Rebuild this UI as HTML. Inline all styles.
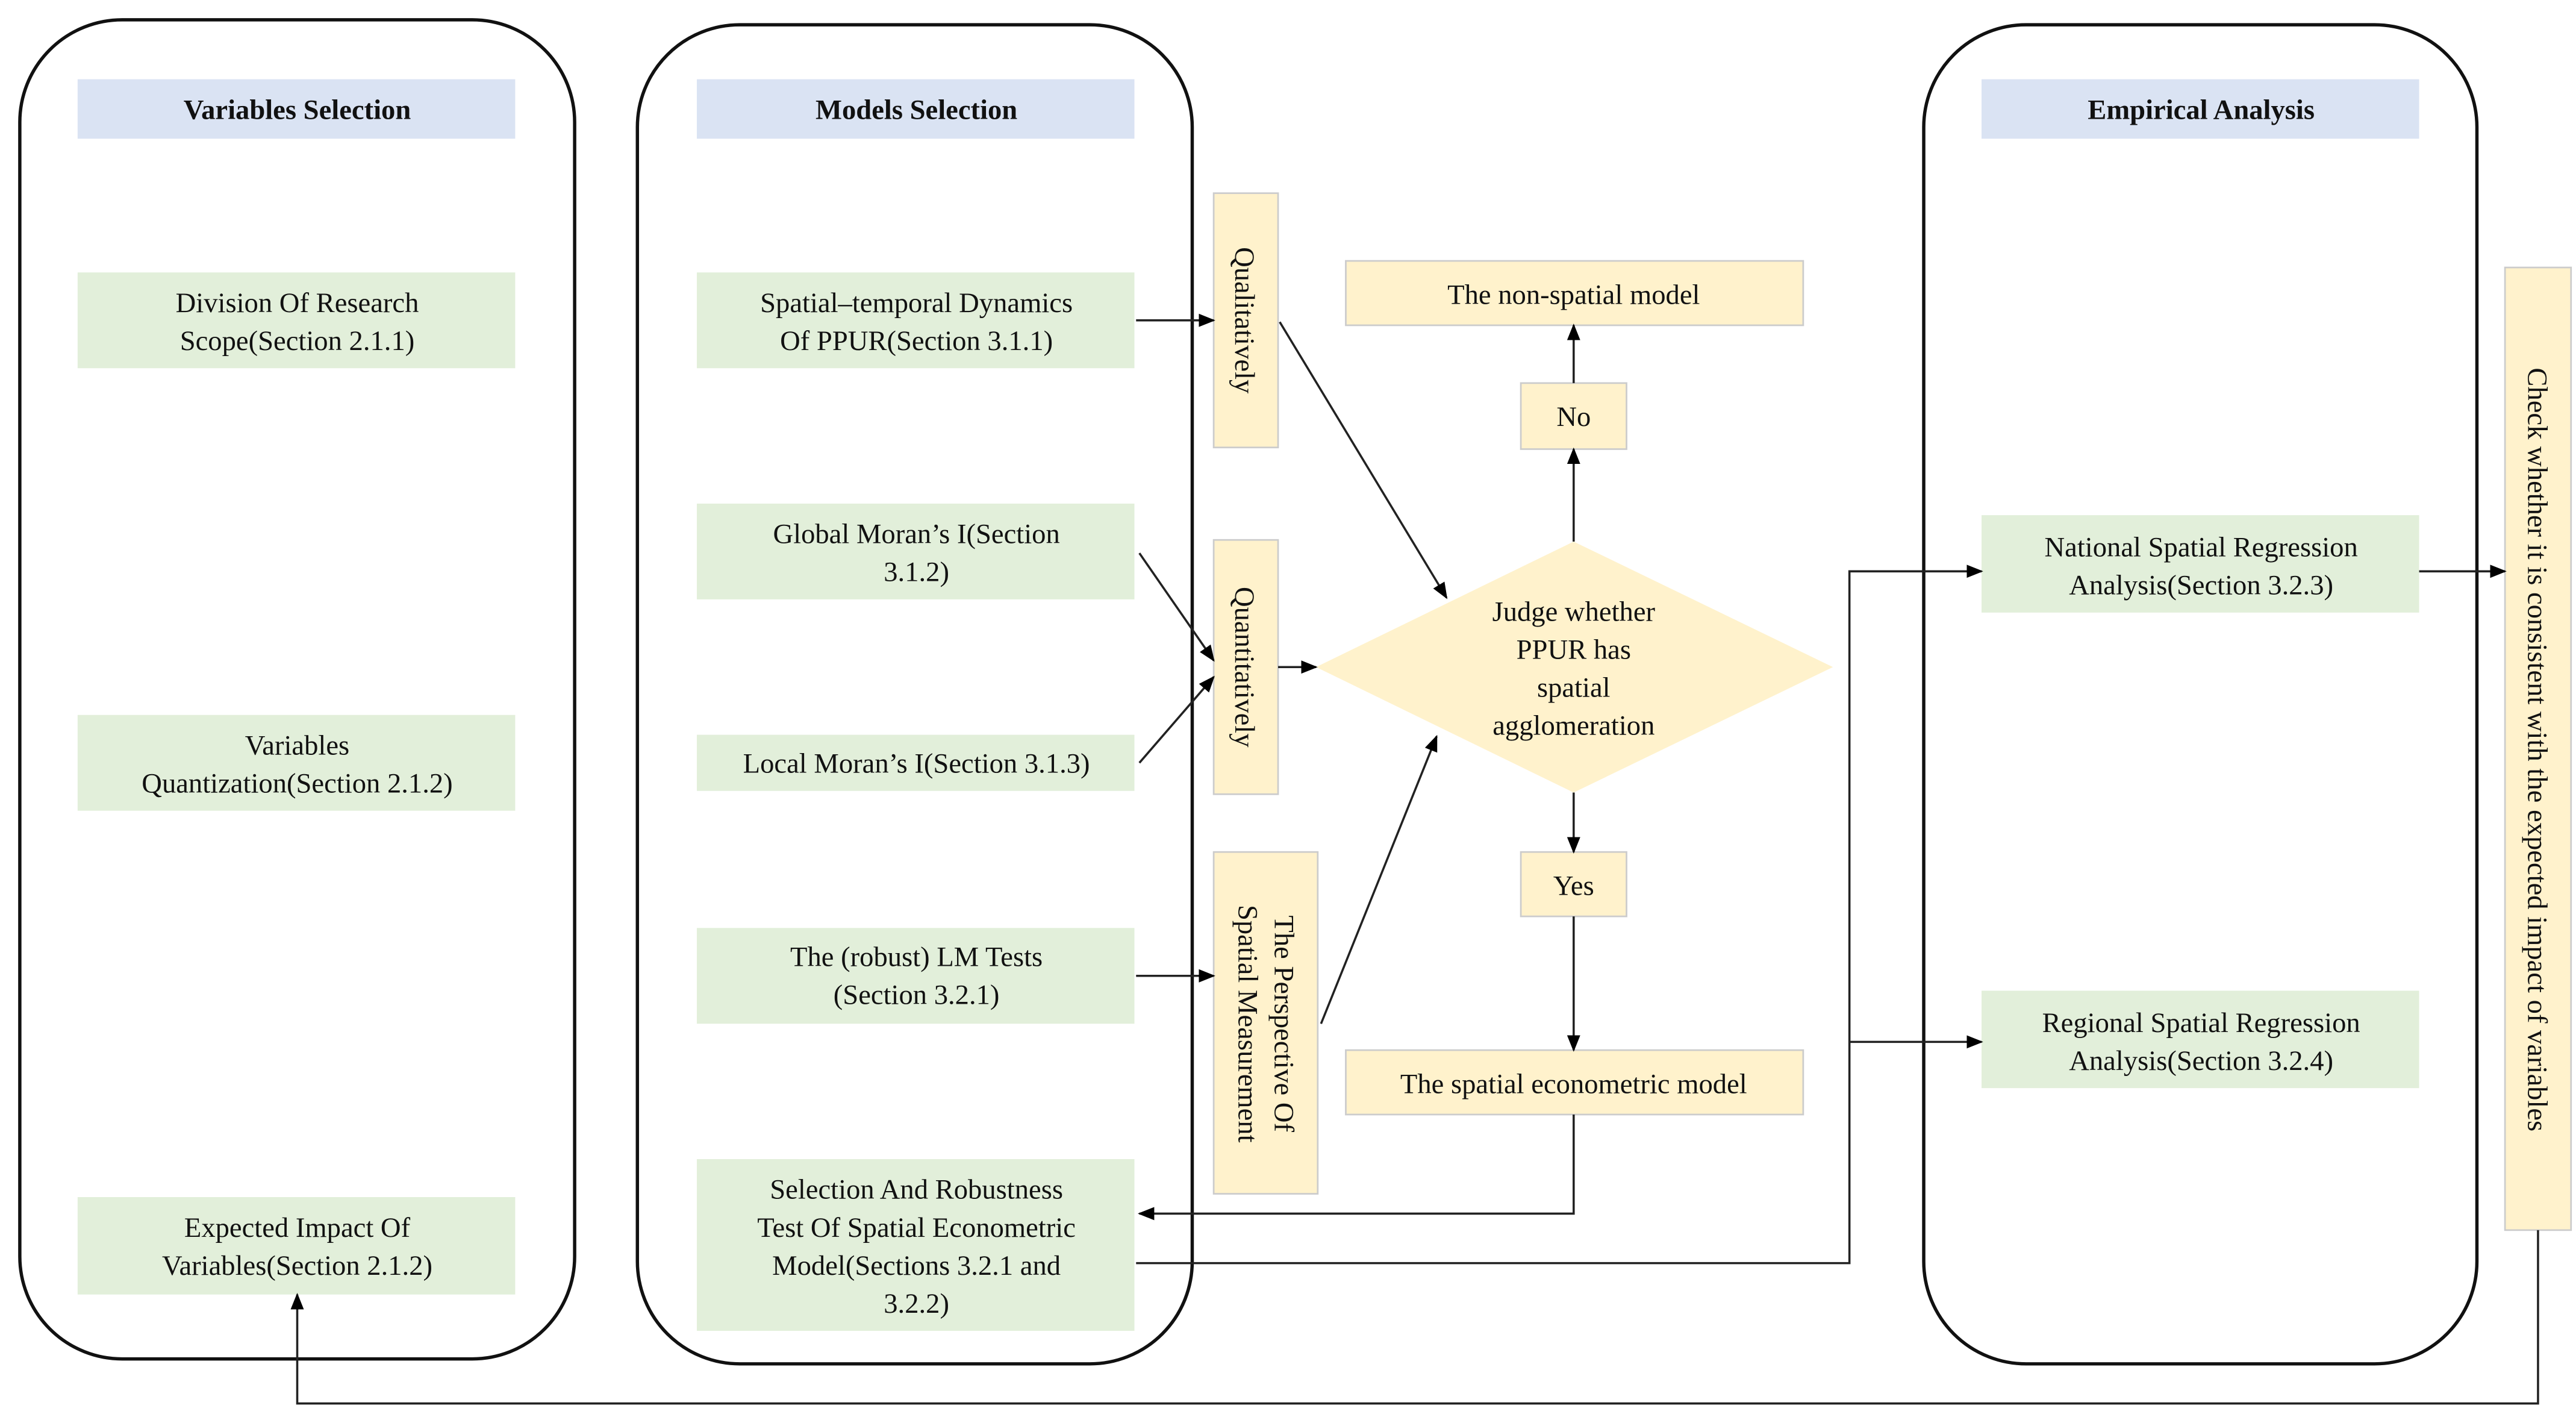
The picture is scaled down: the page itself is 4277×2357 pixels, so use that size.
<!DOCTYPE html>
<html><head><meta charset="utf-8"><style>
html,body{margin:0;padding:0;background:#fff;}
svg{display:block;}
svg text{font-family:"Liberation Serif","DejaVu Serif",serif !important;font-size:17px;fill:#111;}
.b{font-weight:bold;}
</style></head><body>
<svg width="4277" height="2357" viewBox="0 0 1560 860" preserveAspectRatio="none" xmlns="http://www.w3.org/2000/svg" font-family="Liberation Serif, DejaVu Serif, serif">
<defs><marker id="a" markerWidth="10" markerHeight="10" refX="9" refY="5" orient="auto" markerUnits="userSpaceOnUse"><path d="M0,1 L10,5 L0,9 z" fill="#000"/></marker></defs>
<g fill="none" stroke="#111" stroke-width="2">
<rect x="12" y="12" width="336" height="811" rx="62"/>
<rect x="386" y="15" width="336" height="811" rx="62"/>
<rect x="1165" y="15" width="335" height="811" rx="62"/>
</g>
<g fill="#dae3f3">
<rect x="47" y="48" width="265" height="36"/><rect x="422" y="48" width="265" height="36"/><rect x="1200" y="48" width="265" height="36"/>
</g>
<g fill="#e2efda">
<rect x="47" y="165" width="265" height="58"/><rect x="47" y="433" width="265" height="58"/><rect x="47" y="725" width="265" height="59"/>
<rect x="422" y="165" width="265" height="58"/><rect x="422" y="305" width="265" height="58"/><rect x="422" y="445" width="265" height="34"/>
<rect x="422" y="562" width="265" height="58"/><rect x="422" y="702" width="265" height="104"/>
<rect x="1200" y="312" width="265" height="59"/><rect x="1200" y="600" width="265" height="59"/>
</g>
<g fill="#fff2cc" stroke="#ccc" stroke-width="1">
<rect x="735" y="117" width="39" height="154"/><rect x="735" y="327" width="39" height="154"/><rect x="735" y="516" width="63" height="207"/>
<rect x="815" y="158" width="277" height="39"/><rect x="921" y="232" width="64" height="40"/><rect x="921" y="516" width="64" height="39"/>
<rect x="815" y="636" width="277" height="39"/><rect x="1517" y="162" width="40" height="583"/>
<polygon points="953,328 1110,404 953,480 797,404" stroke="none"/>
</g>
<g stroke="#222" stroke-width="1.3" fill="none">
<line x1="688" y1="194" x2="735" y2="194" marker-end="url(#a)"/>
<line x1="775" y1="195" x2="876" y2="362" marker-end="url(#a)"/>
<line x1="690" y1="335" x2="735" y2="400" marker-end="url(#a)"/>
<line x1="690" y1="462" x2="735" y2="410" marker-end="url(#a)"/>
<line x1="774" y1="404" x2="797" y2="404" marker-end="url(#a)"/>
<line x1="800" y1="620" x2="870" y2="446" marker-end="url(#a)"/>
<line x1="688" y1="591" x2="735" y2="591" marker-end="url(#a)"/>
<line x1="953" y1="328" x2="953" y2="272" marker-end="url(#a)"/>
<line x1="953" y1="232" x2="953" y2="197" marker-end="url(#a)"/>
<line x1="953" y1="480" x2="953" y2="516" marker-end="url(#a)"/>
<line x1="953" y1="555" x2="953" y2="636" marker-end="url(#a)"/>
<polyline points="953,675 953,735 690,735" marker-end="url(#a)"/>
<polyline points="688,765 1120,765 1120,346 1200,346" marker-end="url(#a)"/>
<line x1="1120" y1="631" x2="1200" y2="631" marker-end="url(#a)"/>
<line x1="1465" y1="346" x2="1517" y2="346" marker-end="url(#a)"/>
<polyline points="1537,745 1537,850 180,850 180,784" marker-end="url(#a)"/>
</g>
<g text-anchor="middle" font-family="Liberation Serif, DejaVu Serif, serif">
<text x="180" y="72" class="b">Variables Selection</text>
<text x="555" y="72" class="b">Models Selection</text>
<text x="1333" y="72" class="b">Empirical Analysis</text>
<text x="180" y="189">Division Of Research</text><text x="180" y="212">Scope(Section 2.1.1)</text>
<text x="180" y="457">Variables</text><text x="180" y="480">Quantization(Section 2.1.2)</text>
<text x="180" y="749">Expected Impact Of</text><text x="180" y="772">Variables(Section 2.1.2)</text>
<text x="555" y="189">Spatial–temporal Dynamics</text><text x="555" y="212">Of PPUR(Section 3.1.1)</text>
<text x="555" y="329">Global Moran’s I(Section</text><text x="555" y="352">3.1.2)</text>
<text x="555" y="468">Local Moran’s I(Section 3.1.3)</text>
<text x="555" y="585">The (robust) LM Tests</text><text x="555" y="608">(Section 3.2.1)</text>
<text x="555" y="726">Selection And Robustness</text><text x="555" y="749">Test Of Spatial Econometric</text><text x="555" y="772">Model(Sections 3.2.1 and</text><text x="555" y="795">3.2.2)</text>
<text x="953" y="184">The non-spatial model</text>
<text x="953" y="258">No</text>
<text x="953" y="542">Yes</text>
<text x="953" y="662">The spatial econometric model</text>
<text x="953" y="376">Judge whether</text><text x="953" y="399">PPUR has</text><text x="953" y="422">spatial</text><text x="953" y="445">agglomeration</text>
<text x="1333" y="337">National Spatial Regression</text><text x="1333" y="360">Analysis(Section 3.2.3)</text>
<text x="1333" y="625">Regional Spatial Regression</text><text x="1333" y="648">Analysis(Section 3.2.4)</text>
<text transform="translate(748,194) rotate(90)">Qualitatively</text>
<text transform="translate(748,404) rotate(90)">Quantitatively</text>
<text transform="translate(772,620) rotate(90)">The Perspective Of</text>
<text transform="translate(750,620) rotate(90)">Spatial Measurement</text>
<text transform="translate(1531,454) rotate(90)">Check whether it is consistent with the expected impact of variables</text>
</g>
</svg>
</body></html>
